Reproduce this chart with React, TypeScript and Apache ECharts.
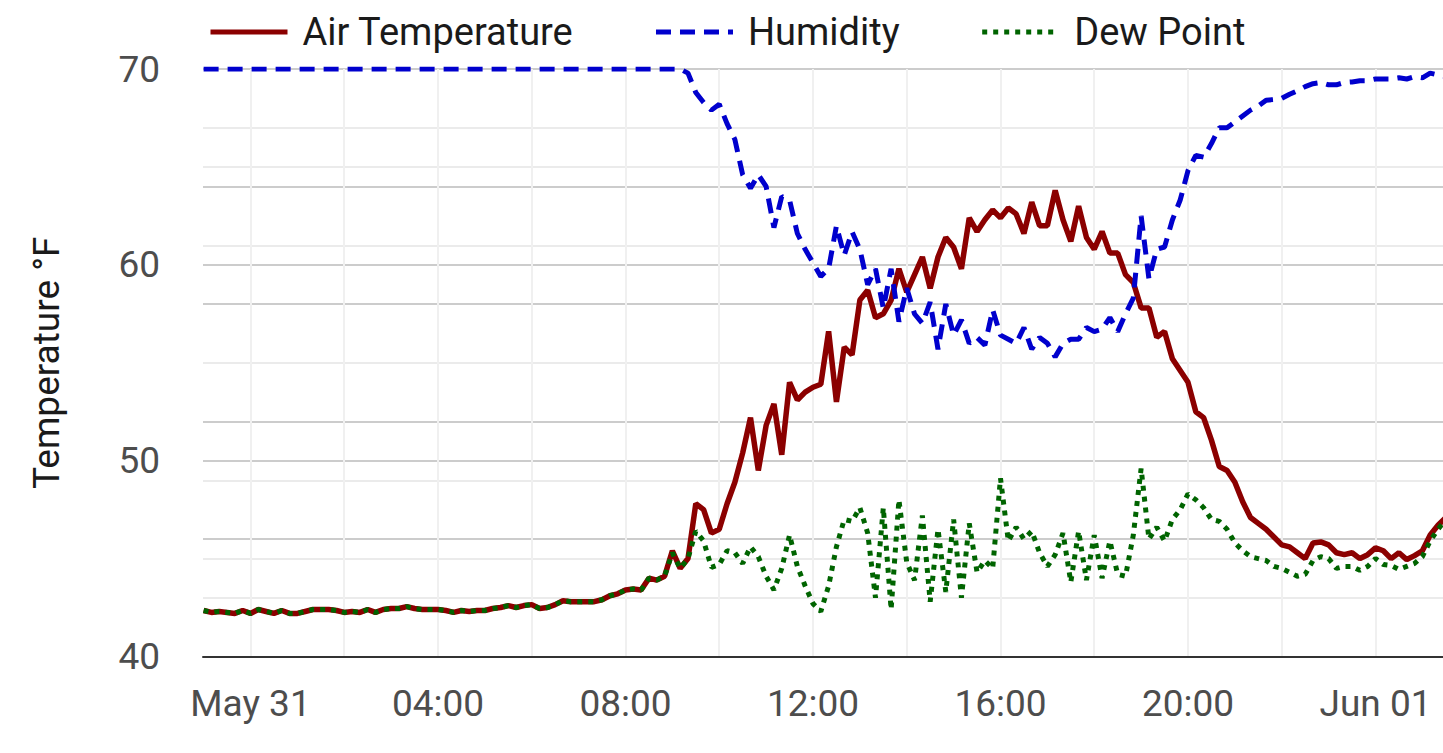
import React, { useEffect, useRef } from 'react';
import * as echarts from 'echarts';

// Sampling schedule: readings every 10 minutes, starting 23:00 on May 30
// (hours are counted from May 31 00:00).
const START_HOUR = -1;
const STEP_MINUTES = 10;
const X_MIN = -1.013;
const X_MAX = 25.44;

const TICK_HOURS = [0, 4, 8, 12, 16, 20, 24];
const TICK_LABELS = ['May 31', '04:00', '08:00', '12:00', '16:00', '20:00', 'Jun 01'];

const SERIES_NAMES = ['Air Temperature', 'Humidity', 'Dew Point'];

// Air temperature, °F
const AIR_TEMP = [
  42.35, 42.25, 42.3, 42.25, 42.2, 42.35, 42.2, 42.4, 42.3, 42.2,
  42.35, 42.2, 42.2, 42.3, 42.4, 42.4, 42.4, 42.35, 42.25, 42.3,
  42.25, 42.4, 42.25, 42.4, 42.45, 42.45, 42.55, 42.45, 42.4, 42.4,
  42.4, 42.35, 42.25, 42.35, 42.3, 42.35, 42.35, 42.45, 42.5, 42.6,
  42.5, 42.6, 42.65, 42.45, 42.5, 42.65, 42.85, 42.8, 42.8, 42.8,
  42.8, 42.9, 43.1, 43.2, 43.4, 43.45, 43.4, 44.0, 43.9, 44.1,
  45.4, 44.5, 45.0, 47.8, 47.5, 46.3, 46.5, 47.8, 48.9, 50.4,
  52.2, 49.5, 51.8, 52.9, 50.3, 54.0, 53.1, 53.5, 53.75, 53.9,
  56.6, 53.0, 55.8, 55.4, 58.2, 58.7, 57.3, 57.5, 58.2, 59.8,
  58.6, 59.5, 60.4, 58.8, 60.4, 61.4, 60.9, 59.8, 62.4, 61.7,
  62.3, 62.8, 62.4, 62.9, 62.6, 61.6, 63.2, 62.0, 62.0, 63.8,
  62.3, 61.2, 63.0, 61.4, 60.8, 61.7, 60.6, 60.6, 59.5, 59.1,
  57.8, 57.8, 56.3, 56.6, 55.2, 54.6, 54.0, 52.5, 52.2, 51.05,
  49.7, 49.5, 48.9, 47.9, 47.1, 46.8, 46.5, 46.1, 45.7, 45.6,
  45.3, 45.0, 45.8, 45.85, 45.7, 45.3, 45.2, 45.3, 45.0, 45.2,
  45.55, 45.4, 45.0, 45.3, 44.95, 45.15, 45.4, 46.2, 46.7, 47.1,
];

// Relative humidity, % (secondary scale 0–100)
const HUMIDITY = [
  100, 100, 100, 100, 100, 100, 100, 100, 100, 100,
  100, 100, 100, 100, 100, 100, 100, 100, 100, 100,
  100, 100, 100, 100, 100, 100, 100, 100, 100, 100,
  100, 100, 100, 100, 100, 100, 100, 100, 100, 100,
  100, 100, 100, 100, 100, 100, 100, 100, 100, 100,
  100, 100, 100, 100, 100, 100, 100, 100, 100, 100,
  100, 100, 99.3, 96.0, 94.3, 93.0, 94.0, 90.7, 88.0, 82.0,
  79.7, 82.0, 80.0, 73.0, 78.3, 77.7, 72.0, 69.3, 67.0, 64.7,
  66.0, 73.3, 68.3, 72.3, 69.3, 63.3, 66.0, 59.3, 66.0, 57.0,
  62.7, 58.3, 56.7, 60.3, 52.3, 60.0, 54.7, 57.3, 53.3, 54.3,
  53.0, 59.0, 54.7, 54.0, 53.3, 56.0, 52.3, 54.3, 53.3, 51.0,
  53.3, 54.0, 54.0, 56.0, 55.3, 55.7, 57.7, 55.3, 58.3, 61.0,
  75.0, 64.3, 69.3, 69.7, 74.3, 77.7, 82.7, 85.3, 85.0, 87.3,
  90.0, 90.0, 91.0, 92.0, 93.0, 93.7, 94.7, 94.8, 95.0, 95.7,
  96.3, 97.0, 97.5, 97.7, 97.3, 97.3, 97.7, 97.8, 98.0, 98.0,
  98.3, 98.3, 98.3, 98.5, 98.3, 98.7, 98.5, 99.3, 99.0, 98.7,
];

// Dew point, °F
const DEW_POINT = [
  42.35, 42.25, 42.3, 42.25, 42.2, 42.35, 42.2, 42.4, 42.3, 42.2,
  42.35, 42.2, 42.2, 42.3, 42.4, 42.4, 42.4, 42.35, 42.25, 42.3,
  42.25, 42.4, 42.25, 42.4, 42.45, 42.45, 42.55, 42.45, 42.4, 42.4,
  42.4, 42.35, 42.25, 42.35, 42.3, 42.35, 42.35, 42.45, 42.5, 42.6,
  42.5, 42.6, 42.65, 42.45, 42.5, 42.65, 42.85, 42.8, 42.8, 42.8,
  42.8, 42.9, 43.1, 43.2, 43.4, 43.45, 43.4, 44.0, 43.9, 44.1,
  45.3, 44.5, 45.0, 46.4, 45.9, 44.55, 44.7, 45.4, 45.3, 44.75,
  45.6, 45.1, 44.1, 43.4, 44.5, 46.2, 44.6, 43.6, 42.7, 42.3,
  43.6, 45.6, 47.0, 46.9, 47.6, 46.3, 43.0, 47.6, 42.4, 48.0,
  44.8, 43.9, 47.2, 42.8, 46.5, 43.3, 47.0, 43.0, 46.8, 44.3,
  44.9, 44.5, 49.1, 45.9, 46.6, 46.0, 46.4, 45.3, 44.6, 45.2,
  46.3, 43.8, 46.4, 43.9, 46.2, 44.0, 45.9, 44.2, 44.1, 46.2,
  49.6, 46.0, 46.6, 45.9, 47.0, 47.5, 48.3, 48.0, 47.6, 47.0,
  46.9, 46.5, 45.8, 45.4, 45.1, 45.0, 44.9, 44.6, 44.5, 44.3,
  44.1, 44.2, 44.9, 45.1, 45.0, 44.5, 44.6, 44.6, 44.4, 44.6,
  45.0, 44.7, 44.65, 44.45, 44.6, 44.75, 45.1, 45.9, 46.5, 47.0,
];

const FONT = 'Roboto, "Noto Sans", "DejaVu Sans", sans-serif';

const hourAt = (i: number) => START_HOUR + (i * STEP_MINUTES) / 60;
const toPairs = (arr: number[]) => arr.map((v, i) => [hourAt(i), v]);

function xLabel(v: number): string {
  for (let k = 0; k < TICK_HOURS.length; k++) {
    if (Math.abs(v - TICK_HOURS[k]) < 1e-6) return TICK_LABELS[k];
  }
  return '';
}

export default function App() {
  const ref = useRef<HTMLDivElement>(null);

  useEffect(() => {
    document.body.style.margin = '0';
    if (!ref.current) return;
    const chart = echarts.init(ref.current, undefined, { renderer: 'svg' });

    const majorH = { show: true, lineStyle: { color: '#cccccc', width: 2 } };
    const minorH = { show: true, lineStyle: { color: '#ebebeb', width: 2 } };

    chart.setOption({
      animation: false,
      backgroundColor: '#ffffff',
      textStyle: { fontFamily: FONT },
      legend: {
        left: 203,
        top: 8,
        itemWidth: 77,
        itemHeight: 20,
        itemGap: 80,
        data: SERIES_NAMES,
        itemStyle: { opacity: 0 },
        lineStyle: { width: 5 },
        textStyle: { fontSize: 38, color: '#1a1a1a', fontFamily: FONT, padding: [0, 0, 0, 10] },
      },
      grid: { left: 203, right: 0, top: 69, bottom: 96.5, containLabel: false },
      xAxis: {
        type: 'value',
        min: X_MIN,
        max: X_MAX,
        splitNumber: 13,
        axisLine: { show: true, onZero: false, lineStyle: { color: '#333333', width: 2 } },
        axisTick: { show: false },
        axisLabel: {
          fontSize: 37,
          color: '#4d4d4d',
          fontFamily: FONT,
          margin: 28,
          showMinLabel: false,
          showMaxLabel: false,
          formatter: xLabel,
        },
        splitLine: {
          show: true,
          showMinLine: false,
          showMaxLine: false,
          lineStyle: { color: '#f0f0f0', width: 2 },
        },
      },
      yAxis: [
        {
          type: 'value',
          min: 40,
          max: 70,
          interval: 10,
          name: 'Temperature °F',
          nameLocation: 'middle',
          nameGap: 138,
          nameTextStyle: { fontSize: 37, color: '#1a1a1a', fontFamily: FONT },
          axisLine: { show: false },
          axisTick: { show: false },
          axisLabel: { fontSize: 37, color: '#4d4d4d', fontFamily: FONT, margin: 43 },
          splitLine: majorH,
          minorTick: { show: false, splitNumber: 2 },
          minorSplitLine: minorH,
        },
        {
          type: 'value',
          min: 0,
          max: 100,
          interval: 20,
          position: 'right',
          axisLine: { show: false },
          axisTick: { show: false },
          axisLabel: { show: false },
          splitLine: majorH,
          minorTick: { show: false, splitNumber: 2 },
          minorSplitLine: minorH,
        },
      ],
      series: [
        {
          name: SERIES_NAMES[0],
          type: 'line',
          yAxisIndex: 0,
          data: toPairs(AIR_TEMP),
          symbol: 'none',
          itemStyle: { color: '#8b0000' },
          lineStyle: { color: '#8b0000', width: 5.5 },
          z: 2,
        },
        {
          name: SERIES_NAMES[1],
          type: 'line',
          yAxisIndex: 1,
          data: toPairs(HUMIDITY),
          symbol: 'none',
          itemStyle: { color: '#0000cd' },
          lineStyle: { color: '#0000cd', width: 5, type: [15, 9] },
          z: 3,
        },
        {
          name: SERIES_NAMES[2],
          type: 'line',
          yAxisIndex: 0,
          data: toPairs(DEW_POINT),
          symbol: 'none',
          itemStyle: { color: '#006400' },
          lineStyle: { color: '#006400', width: 5, type: [5, 6] },
          z: 4,
        },
      ],
    });

    return () => chart.dispose();
  }, []);

  return <div ref={ref} style={{ width: 1443, height: 753 }} />;
}
